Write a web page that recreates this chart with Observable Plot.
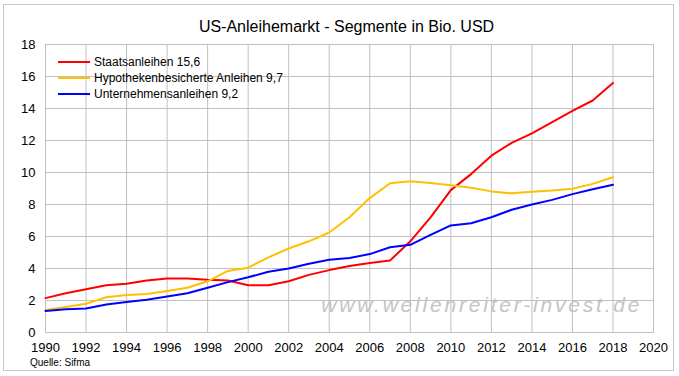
<!DOCTYPE html>
<html>
<head>
<meta charset="utf-8">
<script src="https://cdn.jsdelivr.net/npm/d3@7"></script>
<script src="https://cdn.jsdelivr.net/npm/@observablehq/plot@0.6"></script>
<style>
  html, body { margin: 0; padding: 0; background: #fff; }
  #wrap { position: relative; width: 679px; height: 376px; font-family: "Liberation Sans", Arial, sans-serif; }
  #border { position: absolute; left: 3px; top: 4px; width: 671px; height: 367px; border: 1px solid #c8c8c8; box-sizing: border-box; pointer-events: none; }
  #title { position: absolute; left: 0; width: 679px; top: 18px; text-align: center; font-size: 16px; color: #000; padding-left: 14px; box-sizing: border-box; }
  #caption { position: absolute; left: 30px; top: 357px; font-size: 10px; color: #000; }
  #legend { position: absolute; left: 58px; top: 54px; font-size: 12px; color: #000; }
  #legend div { height: 16px; display: flex; align-items: center; }
  #legend span.sw { display: inline-block; width: 32px; height: 2px; margin-right: 4px; }
  #chart { position: absolute; left: 0; top: 0; }
</style>
</head>
<body>
<div id="wrap">
  <div id="chart"></div>
  <div id="title">US-Anleihemarkt - Segmente in Bio. USD</div>
  <div id="legend"></div>
  <div id="caption">Quelle: Sifma</div>
  <div id="border"></div>
</div>
<script>
const years = d3.range(1990, 2019);
const seriesNames = ["Staatsanleihen 15,6", "Hypothekenbesicherte Anleihen 9,7", "Unternehmensanleihen 9,2"];
const seriesColors = ["#ff0000", "#ffc000", "#0000ff"];
const staatsanleihen = [2.15, 2.45, 2.7, 2.95, 3.05, 3.25, 3.38, 3.38, 3.3, 3.25, 2.95, 2.95, 3.2, 3.6, 3.9, 4.15, 4.35, 4.5, 5.7, 7.2, 8.9, 9.9, 11.05, 11.85, 12.45, 13.15, 13.85, 14.5, 15.6];
const hypotheken = [1.4, 1.6, 1.8, 2.2, 2.35, 2.4, 2.6, 2.8, 3.2, 3.85, 4.05, 4.7, 5.25, 5.7, 6.25, 7.2, 8.4, 9.33, 9.46, 9.35, 9.2, 9.05, 8.82, 8.7, 8.8, 8.87, 8.98, 9.29, 9.7];
const unternehmen = [1.35, 1.45, 1.5, 1.75, 1.9, 2.05, 2.25, 2.45, 2.8, 3.15, 3.45, 3.8, 4.0, 4.3, 4.55, 4.65, 4.9, 5.33, 5.48, 6.1, 6.69, 6.83, 7.2, 7.67, 8.0, 8.29, 8.65, 8.95, 9.23];
const xTicks = d3.range(1990, 2021, 2);
const yTicks = d3.range(0, 19, 2);
const watermark = "www.wellenreiter-invest.de";

const allValues = [staatsanleihen, hypotheken, unternehmen];
const data = allValues.flatMap((vals, i) => vals.map((v, j) => ({year: years[j], value: v, series: seriesNames[i]})));

const chart = Plot.plot({
  width: 679,
  height: 376,
  marginTop: 44,
  marginBottom: 44,
  marginLeft: 45,
  marginRight: 26,
  style: {fontFamily: "'Liberation Sans', Arial, sans-serif", fontSize: "13px", color: "#000", background: "transparent"},
  x: {domain: [1990, 2020], ticks: xTicks, tickFormat: d => String(d), label: null, tickSize: 0, tickPadding: 10},
  y: {domain: [0, 18], ticks: yTicks, label: null, tickSize: 0, tickPadding: 10},
  color: {domain: seriesNames, range: seriesColors},
  marks: [
    Plot.text([watermark], {frameAnchor: "bottom-right", dx: -11.2, dy: -21, textAnchor: "end", fontSize: 21, fontStyle: "italic", fill: "#c4c4c4"}),
    Plot.gridX(xTicks, {stroke: "#c0c0c0", strokeOpacity: 1}),
    Plot.gridY(yTicks, {stroke: "#c0c0c0", strokeOpacity: 1}),
    Plot.frame({stroke: "#c0c0c0"}),
    Plot.line(data, {x: "year", y: "value", z: "series", stroke: "series", strokeWidth: 2})
  ]
});
d3.select(chart).selectAll("text").filter(function() { return this.textContent === watermark; }).style("letter-spacing", "2.8px");
document.getElementById("chart").appendChild(chart);

const legend = document.getElementById("legend");
seriesNames.forEach((name, i) => {
  const row = document.createElement("div");
  const sw = document.createElement("span");
  sw.className = "sw";
  sw.style.background = seriesColors[i];
  row.appendChild(sw);
  row.appendChild(document.createTextNode(name));
  legend.appendChild(row);
});
</script>
</body>
</html>
